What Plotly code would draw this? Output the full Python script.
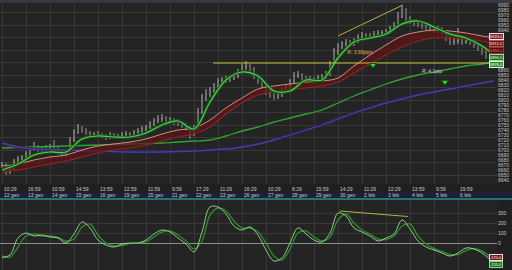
import plotly.graph_objects as go

# ---------------- data ----------------
closes = [6670,6656,6662,6678,6682,6686,6692,6700,6706,6700,
          6702,6704,6706,6702,6698,6690,6698,6720,6736,6744,
          6740,6734,6728,6732,6730,6728,6726,6730,6726,6728,
          6730,6732,6730,6736,6738,6742,6746,6752,6758,6762,
          6764,6758,6760,6756,6754,6750,6744,6734,6744,6776,
          6804,6812,6818,6828,6838,6840,6842,6844,6848,6856,
          6866,6868,6862,6848,6838,6828,6816,6810,6806,6810,
          6818,6826,6838,6848,6850,6844,6840,6842,6840,6844,
          6846,6852,6872,6896,6906,6912,6916,6912,6918,6926,
          6930,6928,6928,6932,6934,6934,6936,6942,6948,6968,
          6980,6964,6958,6954,6952,6948,6946,6942,6940,6942,
          6936,6924,6916,6918,6920,6916,6918,6916,6910,6904,
          6896,6888,6880,6884]
highs = [6676,6674,6666,6682,6688,6690,6698,6706,6716,6710,
         6708,6710,6712,6720,6706,6700,6702,6726,6742,6752,
         6748,6744,6738,6736,6738,6734,6732,6736,6734,6732,
         6736,6738,6736,6740,6744,6748,6750,6758,6764,6770,
         6772,6768,6766,6764,6762,6758,6754,6748,6750,6784,
         6812,6822,6826,6834,6844,6846,6848,6850,6854,6862,
         6872,6878,6872,6866,6852,6842,6832,6820,6814,6816,
         6824,6830,6842,6856,6858,6854,6848,6848,6846,6850,
         6852,6858,6878,6904,6914,6918,6922,6920,6924,6932,
         6936,6934,6934,6938,6940,6940,6942,6948,6956,6976,
         6990,6984,6968,6962,6960,6956,6954,6950,6946,6948,
         6946,6940,6928,6924,6944,6924,6924,6922,6920,6914,
         6908,6900,6892,6890]
lows = [6664,6650,6652,6660,6674,6678,6682,6688,6698,6696,
        6696,6698,6700,6698,6694,6684,6686,6696,6716,6732,
        6734,6730,6724,6724,6726,6724,6720,6722,6722,6722,
        6724,6726,6726,6726,6732,6734,6738,6742,6748,6754,
        6756,6752,6752,6750,6748,6744,6738,6722,6728,6740,
        6772,6798,6806,6814,6824,6834,6834,6836,6840,6844,
        6852,6860,6856,6842,6832,6822,6810,6804,6800,6802,
        6806,6814,6822,6834,6844,6838,6834,6836,6834,6836,
        6840,6842,6848,6868,6890,6902,6906,6906,6908,6914,
        6922,6922,6922,6924,6928,6928,6930,6932,6938,6944,
        6964,6958,6952,6948,6946,6942,6940,6936,6934,6934,
        6930,6918,6910,6910,6912,6910,6912,6910,6904,6898,
        6890,6882,6874,6876]
opens = [closes[0]] + closes[:-1]
bars = list(range(len(closes)))

ma_idx = [0,4,8,12,16,20,24,28,32,36,40,44,48,52,56,60,64,68,72,76,80,84,88,92,96,100,104,108,112,116,120,123]
fast_green = [6660,6672,6690,6696,6696,6722,6728,6726,6726,6734,6750,6758,6742,6796,6840,6856,
              6848,6818,6818,6840,6840,6884,6916,6924,6932,6952,6958,6946,6932,6924,6908,6890]
pink_ma = [6668,6672,6680,6686,6690,6700,6708,6712,6716,6722,6732,6740,6744,6760,6784,6804,
           6822,6828,6832,6836,6838,6844,6868,6890,6910,6928,6936,6940,6938,6934,6928,6924]
red_ma = [6656,6660,6666,6672,6678,6686,6694,6700,6704,6710,6718,6726,6732,6746,6772,6794,
          6810,6816,6820,6824,6828,6836,6854,6872,6890,6906,6918,6924,6924,6922,6918,6912]

slow_idx = [0,8,16,24,32,40,44,48,52,56,60,64,68,72,76,80,84,88,92,96,100,104,108,112,116,120,123]
slow_green = [6704,6706,6708,6710,6712,6714,6716,6718,6720,6728,6738,6746,6756,6764,6772,6780,
              6794,6808,6820,6832,6842,6850,6856,6862,6868,6872,6876]
purple_idx = [0,4,8,16,24,32,40,48,52,56,60,64,68,72,76,80,84,88,92,96,100,104,108,112,116,120,123]
purple_ma = [6714,6706,6702,6700,6698,6696,6696,6698,6700,6702,6706,6712,6720,6730,6740,6750,
             6762,6774,6784,6794,6802,6810,6816,6822,6828,6834,6838]

osc_idx = list(range(0, 124, 2)) + [123]
osc_main = [-145,-120,50,100,70,80,60,50,0,90,
            210,150,30,-20,-40,-10,0,0,30,90,
            130,110,50,-10,-90,110,360,360,290,170,
            130,160,80,-70,-180,-150,0,150,90,30,
            10,100,300,270,150,110,70,20,50,90,
            230,140,20,-40,-70,-100,-130,-100,-50,-60,
            -100,-160,-170]
osc_signal = [-130,-140,-40,70,90,70,70,55,20,40,
              160,190,80,0,-30,-25,-5,0,15,60,
              110,120,80,20,-60,20,280,350,320,220,
              150,150,110,0,-130,-170,-60,100,120,60,
              20,60,230,290,200,130,90,40,35,70,
              170,190,70,-10,-55,-85,-115,-115,-75,-55,
              -80,-135,-155]

tick_bars = [0,6,12,18,24,30,36,42,48,54,60,66,72,78,84,90,96,102,108,114]
tick_times = ["10:29","16:59","10:59","14:59","13:59","12:59","11:59","9:59","17:29","11:29",
              "16:29","10:29","8:29","15:59","14:29","11:29","12:29","13:59","9:59","19:59"]
tick_dates = ["12 gen","13 gen","14 gen","15 gen","16 gen","19 gen","20 gen","21 gen","22 gen","23 gen",
              "26 gen","27 gen","28 gen","29 gen","30 gen","2 feb","3 feb","4 feb","5 feb","6 feb"]

support_bars = [52.75, 123.75]
support_level = [6874, 6874]
div_bars = [84, 100.2]
div_prices = [6928, 6990]
osc_div_bars = [84.5, 101.5]
osc_div_vals = [320, 265]
arrow_bars = [92.75, 110.75]
arrow_prices = [6870, 6836]
label_bars = [89.5, 107.5]
label_prices = [6894, 6856]
label_texts = ["R: 3.69pips", "R: 4.1pip"]
label_colors = ["#e0b040", "#cfcfcf"]

# ---------------- figure ----------------
FONT = "Liberation Sans"
W, H = 512, 270
xdom = [0, 497 / W]
main_top, main_bot = 4, 184
osc_top, osc_bot = 200, 270
main_dom = [(H - main_bot) / H, (H - main_top) / H]
osc_dom = [(H - osc_bot) / H, (H - osc_top) / H]
prange = [6632, 6992]
orange = [-270, 430]


def price_px(v):
    return main_top + (prange[1] - v) / (prange[1] - prange[0]) * (main_bot - main_top)


def osc_px(v):
    return osc_top + (orange[1] - v) / (orange[1] - orange[0]) * (osc_bot - osc_top)


fig = go.Figure()

fig.add_trace(go.Scatter(x=bars, y=closes, yaxis="y3", mode="lines", opacity=0,
                         line=dict(width=0), hoverinfo="skip", showlegend=False))

fig.add_trace(go.Scatter(x=slow_idx, y=slow_green, mode="lines", line=dict(color="#2ea42e", width=1.3, shape="spline"),
                         showlegend=False))
fig.add_trace(go.Scatter(x=purple_idx, y=purple_ma, mode="lines", line=dict(color="#2a2150", width=3.2, shape="spline"),
                         showlegend=False))
fig.add_trace(go.Scatter(x=purple_idx, y=purple_ma, mode="lines", line=dict(color="#4e3c98", width=1.3, shape="spline"),
                         showlegend=False))
fig.add_trace(go.Scatter(x=ma_idx, y=red_ma, mode="lines", line=dict(color="#8e2424", width=1.2, shape="spline"),
                         showlegend=False))
fig.add_trace(go.Scatter(x=ma_idx, y=pink_ma, mode="lines", fill="tonexty", fillcolor="rgba(95,20,20,0.7)",
                         line=dict(color="#c89088", width=1, shape="spline"), showlegend=False))

fig.add_trace(go.Ohlc(x=bars, open=opens, high=highs, low=lows, close=closes,
                      increasing_line_color="#d0d0d0", decreasing_line_color="#b0a8a8",
                      line_width=0.8, tickwidth=0.15, showlegend=False, hoverinfo="skip"))

fig.add_trace(go.Scatter(x=ma_idx, y=fast_green, mode="lines", line=dict(color="#155515", width=3.2, shape="spline"),
                         showlegend=False))
fig.add_trace(go.Scatter(x=ma_idx, y=fast_green, mode="lines", line=dict(color="#4fd04f", width=1.2, shape="spline"),
                         showlegend=False))

fig.add_trace(go.Scatter(x=support_bars, y=support_level, mode="lines", line=dict(color="#c8c23c", width=1),
                         showlegend=False))
fig.add_trace(go.Scatter(x=div_bars, y=div_prices, mode="lines", line=dict(color="#b8b040", width=1),
                         showlegend=False))
fig.add_trace(go.Scatter(x=arrow_bars, y=arrow_prices, mode="markers",
                         marker=dict(symbol="triangle-down", size=6, color="#2ee02e", line=dict(color="#0c5a0c", width=1)),
                         showlegend=False))
fig.add_trace(go.Scatter(x=label_bars, y=label_prices, mode="text", text=label_texts,
                         textfont=dict(color=label_colors, size=5, family=FONT), showlegend=False))

fig.add_trace(go.Scatter(x=osc_idx, y=osc_signal, xaxis="x2", yaxis="y2", mode="lines",
                         line=dict(color="#2a8a2a", width=1.4, shape="spline"), showlegend=False))
fig.add_trace(go.Scatter(x=osc_idx, y=osc_main, xaxis="x2", yaxis="y2", mode="lines",
                         line=dict(color="#b0e8a8", width=0.8, shape="spline"), showlegend=False))
fig.add_trace(go.Scatter(x=osc_div_bars, y=osc_div_vals, xaxis="x2", yaxis="y2", mode="lines",
                         line=dict(color="#b8b040", width=1), showlegend=False))

# right-side value boxes (value, bg, border, font colour, pixel shift)
boxes = [
    (pink_ma[-1], "#8e1c1c", "#e8e8e8", "#ffffff", 2),
    (red_ma[-1], "#6a1515", "#c05050", "#ffffff", 1),
    (closes[-1], "#3c1212", "#a03030", "#ff6060", 8),
    (fast_green[-1], "#1d6a1d", "#9ae09a", "#ffffff", -2),
    (slow_green[-1], "#2c8c2c", "#d8ffd8", "#ffffff", -2),
]
osc_boxes = [
    (osc_main[-1], "#7a1818", "#e0e0e0", "#ffffff", 3),
    (osc_signal[-1], "#1f6a1f", "#8ad88a", "#ffffff", -6),
]
box_px = [price_px(v) - s for v, _, _, _, s in boxes]
obox_px = [osc_px(v) - s for v, _, _, _, s in osc_boxes]

ptick = [v for v in range(6640, 6992, 10) if all(abs(price_px(v) - p) > 4.5 for p in box_px)]
otick = [v for v in [-200, -100, 0, 100, 200, 300] if all(abs(osc_px(v) - p) > 4.5 for p in obox_px)]

tickfont = dict(size=5, color="#c4c4c4", family=FONT)
grid = "#383838"
fig.update_layout(
    width=W, height=H, autosize=False,
    margin=dict(l=0, r=0, t=0, b=0, pad=0),
    paper_bgcolor="#202020", plot_bgcolor="#242424",
    font=dict(family=FONT, color="#c4c4c4", size=5),
    xaxis=dict(domain=xdom, range=[-0.5, 123.75], anchor="y", tickvals=tick_bars, showticklabels=False,
               showgrid=True, gridcolor=grid, gridwidth=1, zeroline=False, ticks="",
               rangeslider=dict(visible=False)),
    xaxis2=dict(domain=xdom, range=[-0.5, 123.75], anchor="y2", matches="x", tickvals=tick_bars,
                showticklabels=False, showgrid=True, gridcolor=grid, zeroline=False, ticks=""),
    yaxis=dict(domain=main_dom, range=prange, anchor="x", side="right", tickvals=ptick,
               tickfont=tickfont, showgrid=False, zeroline=False, ticks="", automargin=False),
    yaxis3=dict(overlaying="y", range=prange, anchor="x", tick0=0, dtick=25, showgrid=True,
                gridcolor=grid, showticklabels=False, zeroline=False, ticks=""),
    yaxis2=dict(domain=osc_dom, range=orange, anchor="x2", side="right",
                tickvals=otick, tickfont=tickfont, showgrid=True, gridcolor=grid,
                zeroline=True, zerolinecolor="#8c8c8c", zerolinewidth=1, ticks="", automargin=False),
    showlegend=False,
)

shapes = [
    dict(type="rect", xref="paper", yref="paper", x0=0, x1=1, y0=1 - 3 / H, y1=1,
         fillcolor="#353a42", line=dict(width=0), layer="above"),
    dict(type="rect", xref="paper", yref="paper", x0=0, x1=1, y0=1 - 198 / H, y1=1 - 191.5 / H,
         fillcolor="#1b2132", line=dict(width=0), layer="below"),
    dict(type="line", xref="paper", yref="paper", x0=0, x1=1, y0=1 - 199 / H, y1=1 - 199 / H,
         line=dict(color="#2a8c96", width=1.5)),
]
fig.update_layout(shapes=shapes)

ann = []
for b, t, d in zip(tick_bars, tick_times, tick_dates):
    ann.append(dict(x=b, xref="x", y=1 - 188.5 / H, yref="paper", text=t, showarrow=False,
                    xanchor="left", yanchor="middle", font=dict(size=5, color="#c8c8c8", family=FONT)))
    ann.append(dict(x=b, xref="x", y=1 - 195 / H, yref="paper", text=d, showarrow=False,
                    xanchor="left", yanchor="middle", font=dict(size=5, color="#c8c8c8", family=FONT)))

for val, bg, border, fc, ys in boxes:
    ann.append(dict(x=489 / W, xref="paper", y=val, yref="y", text=f"{val:.0f}.0", showarrow=False,
                    xanchor="left", yanchor="middle", yshift=ys, bgcolor=bg, bordercolor=border, borderwidth=1,
                    borderpad=0, font=dict(size=4, color=fc, family=FONT)))
for val, bg, border, fc, ys in osc_boxes:
    ann.append(dict(x=489 / W, xref="paper", y=val, yref="y2", text=f"{val:.1f}", showarrow=False,
                    xanchor="left", yanchor="middle", yshift=ys, bgcolor=bg, bordercolor=border, borderwidth=1,
                    borderpad=0, font=dict(size=4, color=fc, family=FONT)))
fig.update_layout(annotations=ann)

fig.write_html("out.html")
